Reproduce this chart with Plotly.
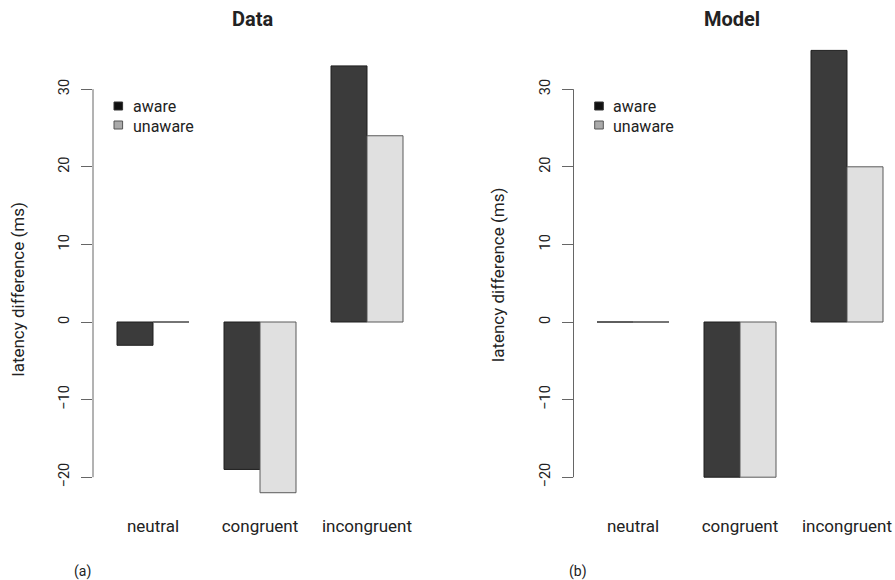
import plotly.graph_objects as go

# ---------------- data ----------------
categories = ["neutral", "congruent", "incongruent"]
series_names = ["aware", "unaware"]
data_aware = [-3, -19, 33]
data_unaware = [0, -22, 24]
model_aware = [0, -20, 35]
model_unaware = [0, -20, 20]
y_ticks = [-20, -10, 0, 10, 20, 30]
y_tick_labels = ["\u221220", "\u221210", "0", "10", "20", "30"]
panel_titles = ["Data", "Model"]
panel_tags = ["(a)", "(b)"]
y_title = "latency difference (ms)"

# ---------------- layout geometry (pixels) ----------------
W, H = 895, 580
FONT = "Roboto"
TXT = "#222222"
AX = "#666666"
PX_PER_UNIT_Y = 7.76
Y0_PX = 322.0
def ypix(v):
    return Y0_PX - PX_PER_UNIT_Y * v
Y_RANGE = [-24, 38]
y_domain = [1 - ypix(Y_RANGE[0]) / H, 1 - ypix(Y_RANGE[1]) / H]

CAT_PX = 107.0          # px per category
BW = 36.0 / CAT_PX      # bar width in category units
panels = [
    dict(axis_px=93.0, first_center=153.0, right_px=440.0, title_x=252.5,
         ytitle=(17.5, 290.0), tag_x=82.0, legend_x=118.3),
    dict(axis_px=573.5, first_center=633.0, right_px=895.0, title_x=732.0,
         ytitle=(497.5, 275.5), tag_x=578.0, legend_x=599.0),
]
values = [(data_aware, data_unaware), (model_aware, model_unaware)]

fills = ["#3b3b3b", "#e0e0e0"]
edges = ["#1e1e1e", "#5a5a5a"]
legend_fills = ["#111111", "#aaaaaa"]
legend_edges = ["#333333", "#555555"]
offsets = [-BW, 0.0]

fig = go.Figure()
layout = dict(
    width=W, height=H, margin=dict(l=0, r=0, t=0, b=0),
    paper_bgcolor="white", plot_bgcolor="white",
    showlegend=False, font=dict(family=FONT, color=TXT, size=17),
    shapes=[], annotations=[],
)

for p, (geo, vals) in enumerate(zip(panels, values)):
    xa = "x" if p == 0 else "x2"
    ya = "y" if p == 0 else "y2"
    xkey = "xaxis" if p == 0 else "xaxis2"
    ykey = "yaxis" if p == 0 else "yaxis2"
    xs = list(range(len(categories)))
    for s, series in enumerate(vals):
        fig.add_trace(go.Bar(
            x=xs, y=series, width=BW, offset=offsets[s],
            marker=dict(color=fills[s], line=dict(color=edges[s], width=1)),
            xaxis=xa, yaxis=ya, name=series_names[s], hoverinfo="x+y+name",
        ))
        # zero-valued bars are drawn by R as a flat outline
        lx, ly = [], []
        for i, v in zip(xs, series):
            if v == 0:
                lx += [i + offsets[s], i + offsets[s] + BW, None]
                ly += [v, v, None]
        if lx:
            fig.add_trace(go.Scatter(
                x=lx, y=ly, mode="lines", line=dict(color=AX, width=1),
                xaxis=xa, yaxis=ya, hoverinfo="skip",
            ))

    dom = [geo["axis_px"] / W, geo["right_px"] / W]
    rng = [(geo["axis_px"] - geo["first_center"]) / CAT_PX,
           (geo["right_px"] - geo["first_center"]) / CAT_PX]
    layout[xkey] = dict(
        domain=dom, range=rng, anchor=ya,
        tickmode="array", tickvals=xs, ticktext=categories,
        ticks="", showline=False, showgrid=False, zeroline=False,
        tickfont=dict(size=17, color=TXT, family=FONT),
        ticklabelstandoff=6, fixedrange=True,
    )
    layout[ykey] = dict(
        domain=y_domain, range=Y_RANGE, anchor=xa,
        tickmode="array", tickvals=y_ticks, ticktext=y_tick_labels,
        ticks="outside", ticklen=11, tickwidth=1, tickcolor=AX,
        tickangle=-90, tickfont=dict(size=14.5, color=TXT, family=FONT),
        ticklabelstandoff=6,
        showline=False, showgrid=False, zeroline=False, fixedrange=True,
    )
    # R-style axis line spanning only the tick range
    layout["shapes"].append(dict(
        type="line", xref="paper", yref=ya,
        x0=geo["axis_px"] / W, x1=geo["axis_px"] / W,
        y0=min(y_ticks), y1=max(y_ticks),
        line=dict(color=AX, width=1),
    ))
    # legend keys
    for s, nm in enumerate(series_names):
        cy = 106.0 + 19.0 * s
        cx = geo["legend_x"]
        layout["shapes"].append(dict(
            type="rect", xref="paper", yref="paper",
            x0=(cx - 4.3) / W, x1=(cx + 4.3) / W,
            y0=1 - (cy + 4.0) / H, y1=1 - (cy - 4.0) / H,
            fillcolor=legend_fills[s], line=dict(color=legend_edges[s], width=1),
        ))
        layout["annotations"].append(dict(
            text=nm, xref="paper", yref="paper",
            x=(cx + 13.4) / W, y=1 - (cy + 1.0) / H,
            xanchor="left", yanchor="middle", showarrow=False,
            borderpad=0,
            font=dict(size=16, color=TXT, family=FONT),
        ))
    # titles
    layout["annotations"].append(dict(
        text="<b>%s</b>" % panel_titles[p], xref="paper", yref="paper",
        x=geo["title_x"] / W, y=1 - 19.0 / H, xanchor="center", yanchor="middle",
        showarrow=False, font=dict(size=20, color=TXT, family=FONT),
    ))
    layout["annotations"].append(dict(
        text=y_title, xref="paper", yref="paper", textangle=-90,
        x=geo["ytitle"][0] / W, y=1 - geo["ytitle"][1] / H,
        xanchor="center", yanchor="middle", showarrow=False,
        font=dict(size=17, color=TXT, family=FONT),
    ))
    layout["annotations"].append(dict(
        text=panel_tags[p], xref="paper", yref="paper",
        x=geo["tag_x"] / W, y=1 - 571.0 / H, xanchor="center", yanchor="middle",
        showarrow=False, font=dict(size=14, color=TXT, family=FONT),
    ))

fig.update_layout(**layout)
fig.write_html("out.html")
